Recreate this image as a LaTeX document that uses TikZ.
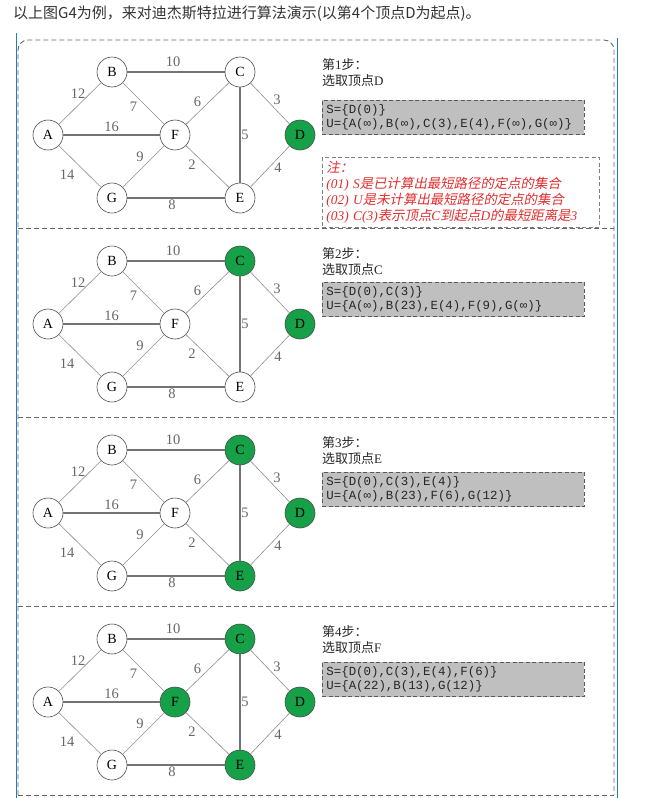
\documentclass[tikz,border=0pt]{standalone}
\usepackage{fontspec}
\setmainfont{Liberation Serif}
\newfontfamily\cjk{Noto Sans CJK SC}
\newfontfamily\cjkit{Noto Sans CJK SC}[FakeSlant=0.2]
\newfontfamily\mono{Liberation Mono}
\definecolor{dgreen}{RGB}{22,160,72}
\definecolor{quoteblue}{RGB}{35,125,190}
\definecolor{notered}{RGB}{225,45,45}

\tikzset{
  vtx/.style={circle, draw=black!70, line width=0.6pt, minimum size=30pt, inner sep=0pt,
    font=\fontsize{14}{16}\selectfont},
  edge/.style={draw=black!45, line width=0.6pt},
  hedge/.style={draw=black!55, line width=1.1pt},
  lbl/.style={text=black!60, inner sep=0pt, font=\fontsize{14.5}{16}\selectfont},
  frame/.style={draw=black!60, line width=0.9pt, dash pattern=on 5pt off 3pt},
  steptxt/.style={anchor=west, inner sep=0pt, text=black!85, font=\fontsize{13}{15}\selectfont},
  setbox/.style={anchor=north west, draw=black!65, fill=black!25, line width=0.9pt,
    dash pattern=on 4pt off 2.5pt, minimum width=262pt, minimum height=34pt,
    text width=254pt, inner sep=4pt, align=left, text=black!85,
    font=\mono\fontsize{12.4}{14.5}\selectfont},
  notebox/.style={anchor=north west, draw=black!50, line width=0.9pt,
    dash pattern=on 4pt off 2.5pt, minimum width=277pt, minimum height=69pt,
    text width=269pt, inner sep=4pt, align=left, text=notered,
    font=\fontsize{13.4}{16}\selectfont}
}

\begin{document}
\begin{tikzpicture}[x=1pt, y=-1pt]
  \useasboundingbox (0,0) rectangle (648,798);

  % title and quote bars
  \node[anchor=west, inner sep=0pt, text=black!80, font=\cjk\fontsize{15}{18}\selectfont]
    (title) at (13,14) {以上图G4为例，来对迪杰斯特拉进行算法演示(以第4个顶点D为起点)。};
  \draw[quoteblue, line width=0.8pt] (16,33) -- (16,798);
  \draw[quoteblue, line width=0.8pt] (617,38) -- (617,798);

  % dashed frame
  \draw[frame, rounded corners=10pt] (18,795) -- (18,40) -- (614,40) -- (614,795);
  \draw[frame] (18,795) -- (614,795);
  \foreach \k in {1,2,3}
    \draw[frame] (18,{40+189*\k-1}) -- (614,{40+189*\k-1});

  % one panel per step
  \foreach \p/\gC/\gD/\gE/\gF/\pick/\boxtop/\Sset/\Uset in {
      1/white/dgreen/white/white/D/100/{S=\{D(0)\}}/{U=\{A(∞),B(∞),C(3),E(4),F(∞),G(∞)\}},
      2/dgreen/dgreen/white/white/C/93/{S=\{D(0),C(3)\}}/{U=\{A(∞),B(23),E(4),F(9),G(∞)\}},
      3/dgreen/dgreen/dgreen/white/E/94/{S=\{D(0),C(3),E(4)\}}/{U=\{A(∞),B(23),F(6),G(12)\}},
      4/dgreen/dgreen/dgreen/dgreen/F/95/{S=\{D(0),C(3),E(4),F(6)\}}/{U=\{A(22),B(13),G(12)\}}} {
    \begin{scope}[yshift={(1-\p)*189pt}]
      \node[vtx] (A\p) at (48,135) {A};
      \node[vtx] (B\p) at (112,72) {B};
      \node[vtx, fill=\gC] (C\p) at (240,72) {C};
      \node[vtx, fill=\gF] (F\p) at (175,135) {F};
      \node[vtx, fill=\gD] (D\p) at (300,135) {D};
      \node[vtx] (G\p) at (112,198) {G};
      \node[vtx, fill=\gE] (E\p) at (240,198) {E};

      \draw[edge] (A\p) -- node[lbl, shift={(-2,-10)}] {12} (B\p);
      \draw[hedge] (B\p) -- node[lbl, shift={(-3,-10)}] {10} (C\p);
      \draw[edge] (B\p) -- node[lbl, shift={(-10,3)}] {7} (F\p);
      \draw[hedge] (A\p) -- node[lbl, shift={(0,-8)}] {16} (F\p);
      \draw[edge] (A\p) -- node[lbl, shift={(-13,8.5)}] {14} (G\p);
      \draw[edge] (G\p) -- node[lbl, shift={(-3.5,-9.5)}] {9} (F\p);
      \draw[edge] (F\p) -- node[lbl, shift={(-10,-1.5)}] {6} (C\p);
      \draw[edge] (F\p) -- node[lbl, shift={(-15.5,-1.5)}] {2} (E\p);
      \draw[hedge] (C\p) -- node[lbl, shift={(5,0)}] {5} (E\p);
      \draw[edge] (C\p) -- node[lbl, shift={(7,-3.5)}] {3} (D\p);
      \draw[edge] (E\p) -- node[lbl, shift={(8,1.5)}] {4} (D\p);
      \draw[hedge] (G\p) -- node[lbl, shift={(-4,7)}] {8} (E\p);

      \node[steptxt] (step\p) at (322,65) {{\cjk 第}\p{\cjk 步：}};
      \node[steptxt] (pick\p) at (322,81) {{\cjk 选取顶点}\pick};
      \node[setbox] (sets\p) at (322,\boxtop) {\Sset\\\Uset};
    \end{scope}
  }

  % note in the first panel
  \node[notebox] (note) at (322,157) {{\cjkit 注：}\\
    {\itshape(01) S}{\cjkit 是已计算出最短路径的定点的集合}\\
    {\itshape(02) U}{\cjkit 是未计算出最短路径的定点的集合}\\
    {\itshape(03) C(3)}{\cjkit 表示顶点}{\itshape C}{\cjkit 到起点}{\itshape D}{\cjkit 的最短距离是}{\itshape 3}};
\end{tikzpicture}
\end{document}
